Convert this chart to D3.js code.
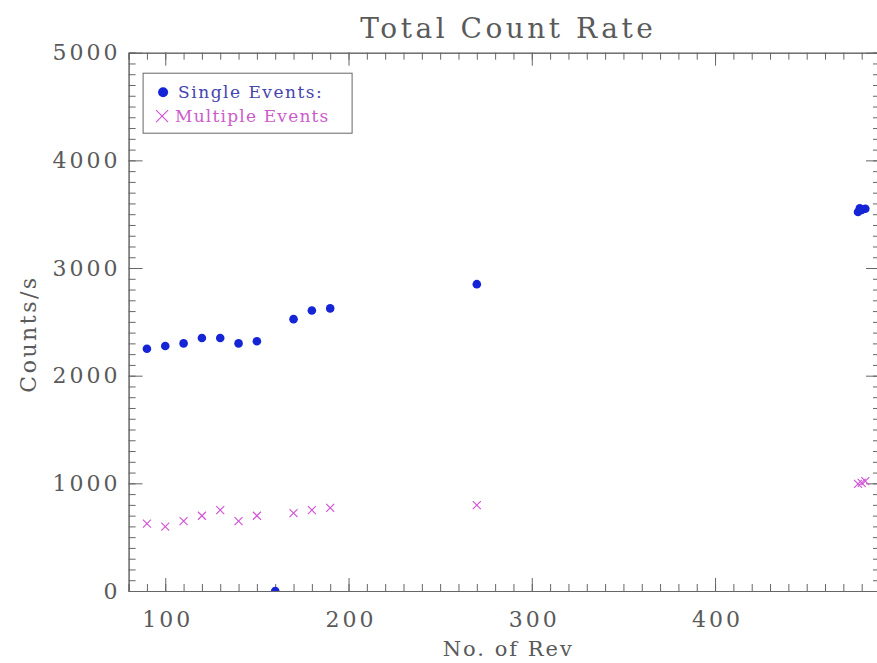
<!DOCTYPE html>
<html>
<head>
<meta charset="utf-8">
<script src="https://cdn.jsdelivr.net/npm/d3@7"></script>
<style>
  body { margin: 0; background: #fff; }
  svg { display: block; }
  .axis path, .axis line { stroke: #666; stroke-width: 1; }
  .axis text { font-family: "DejaVu Serif", serif; font-size: 22px; fill: #5a5a5a; letter-spacing: 3px; }
</style>
</head>
<body>
<div id="chart"></div>
<script>
// values
const revs = [90, 100, 110, 120, 130, 140, 150, 160, 170, 180, 190, 270, 478, 479, 480, 482];
const singleEvents = [2250, 2275, 2300, 2350, 2350, 2300, 2320, 0, 2525, 2605, 2625, 2850, 3520, 3555, 3540, 3550];
const multipleEvents = [625, 597, 650, 699, 752, 650, 699, null, 724, 752, 773, 798, 995, null, 1005, 1020];
const xTicks = [100, 200, 300, 400];
const yTicks = [0, 1000, 2000, 3000, 4000, 5000];

const width = 877, height = 663;
const margin = {top: 52.7, right: -3, bottom: 72, left: 128.6};
const innerW = width - margin.left - margin.right;
const innerH = height - margin.top - margin.bottom;

const svg = d3.select("#chart").append("svg")
    .attr("width", width)
    .attr("height", height);

const x = d3.scaleLinear().domain([80, 490]).range([0, innerW]);
const y = d3.scaleLinear().domain([0, 5000]).range([innerH, 0]);

const g = svg.append("g")
    .attr("transform", `translate(${margin.left},${margin.top})`);

g.append("clipPath").attr("id", "plotclip")
  .append("rect").attr("width", innerW).attr("height", innerH);

// minor ticks on all four sides, pointing in
const xMinor = d3.range(80, 491, 10);
const yMinor = d3.range(0, 5001, 100);

g.append("g").attr("class", "axis")
    .attr("transform", `translate(0,${innerH})`)
    .call(d3.axisBottom(x).tickValues(xMinor).tickSize(-7).tickFormat(""));
g.append("g").attr("class", "axis")
    .call(d3.axisTop(x).tickValues(xMinor).tickSize(-7).tickFormat(""));
g.append("g").attr("class", "axis")
    .call(d3.axisLeft(y).tickValues(yMinor).tickSize(-7).tickFormat(""));
g.append("g").attr("class", "axis")
    .attr("transform", `translate(${innerW},0)`)
    .call(d3.axisRight(y).tickValues(yMinor).tickSize(-7).tickFormat(""));

// major ticks with labels
g.append("g").attr("class", "axis xlab")
    .attr("transform", `translate(0,${innerH})`)
    .call(d3.axisBottom(x).tickValues(xTicks).tickSize(-13).tickPadding(20).tickSizeOuter(0).tickFormat(d3.format("d")));
g.append("g").attr("class", "axis")
    .call(d3.axisTop(x).tickValues(xTicks).tickSize(-13).tickFormat("").tickSizeOuter(0));
g.append("g").attr("class", "axis")
    .call(d3.axisLeft(y).tickValues(yTicks).tickSize(-14).tickPadding(8).tickSizeOuter(0).tickFormat(d3.format("d")));
g.append("g").attr("class", "axis")
    .attr("transform", `translate(${innerW},0)`)
    .call(d3.axisRight(y).tickValues(yTicks).tickSize(-14).tickFormat("").tickSizeOuter(0));

g.selectAll(".xlab text").attr("dx", "2px");

// data
const pts = g.append("g").attr("clip-path", "url(#plotclip)");

const blue = "#1525d6", magenta = "#d24fd6";

pts.selectAll(".single")
    .data(revs.map((r, i) => ({rev: r, val: singleEvents[i]})))
    .enter().append("circle")
    .attr("class", "single")
    .attr("cx", d => x(d.rev))
    .attr("cy", d => y(d.val))
    .attr("r", 4.3)
    .attr("fill", blue);

const cross = 4;
pts.selectAll(".multi")
    .data(revs.map((r, i) => ({rev: r, val: multipleEvents[i]})).filter(d => d.val !== null))
    .enter().append("path")
    .attr("class", "multi")
    .attr("d", d => {
        const cx = x(d.rev), cy = y(d.val);
        return `M${cx - cross},${cy - cross}L${cx + cross},${cy + cross}M${cx - cross},${cy + cross}L${cx + cross},${cy - cross}`;
    })
    .attr("stroke", magenta)
    .attr("stroke-width", 1.1)
    .attr("fill", "none");

// legend
const leg = g.append("g").attr("transform", "translate(14.5,20.5)");
leg.append("rect")
    .attr("width", 209).attr("height", 60)
    .attr("fill", "none").attr("stroke", "#666").attr("stroke-width", 1);
leg.append("circle").attr("cx", 20).attr("cy", 19).attr("r", 5).attr("fill", blue);
leg.append("text").attr("x", 35).attr("y", 25)
    .attr("font-family", "DejaVu Serif").attr("font-size", 17).attr("letter-spacing", 1.5)
    .attr("fill", "#4545b0").text("Single Events:");
leg.append("path")
    .attr("d", "M13,37L25,49M13,49L25,37")
    .attr("stroke", magenta).attr("stroke-width", 1.1);
leg.append("text").attr("x", 32).attr("y", 49)
    .attr("font-family", "DejaVu Serif").attr("font-size", 17).attr("letter-spacing", 1.2)
    .attr("fill", "#cc5ccc").text("Multiple Events");

// titles
svg.append("text")
    .attr("x", margin.left + innerW / 2 + 4)
    .attr("y", 38)
    .attr("text-anchor", "middle")
    .attr("font-family", "DejaVu Serif").attr("font-size", 28).attr("letter-spacing", 3.5)
    .attr("fill", "#5a5a5a")
    .text("Total Count Rate");

svg.append("text")
    .attr("x", margin.left + innerW / 2 + 4)
    .attr("y", 656)
    .attr("text-anchor", "middle")
    .attr("font-family", "DejaVu Serif").attr("font-size", 21).attr("letter-spacing", 2)
    .attr("fill", "#5a5a5a")
    .text("No. of Rev");

svg.append("text")
    .attr("transform", `translate(36,${334}) rotate(-90)`)
    .attr("text-anchor", "middle")
    .attr("font-family", "DejaVu Serif").attr("font-size", 22).attr("letter-spacing", 2.5)
    .attr("fill", "#5a5a5a")
    .text("Counts/s");
</script>
</body>
</html>
